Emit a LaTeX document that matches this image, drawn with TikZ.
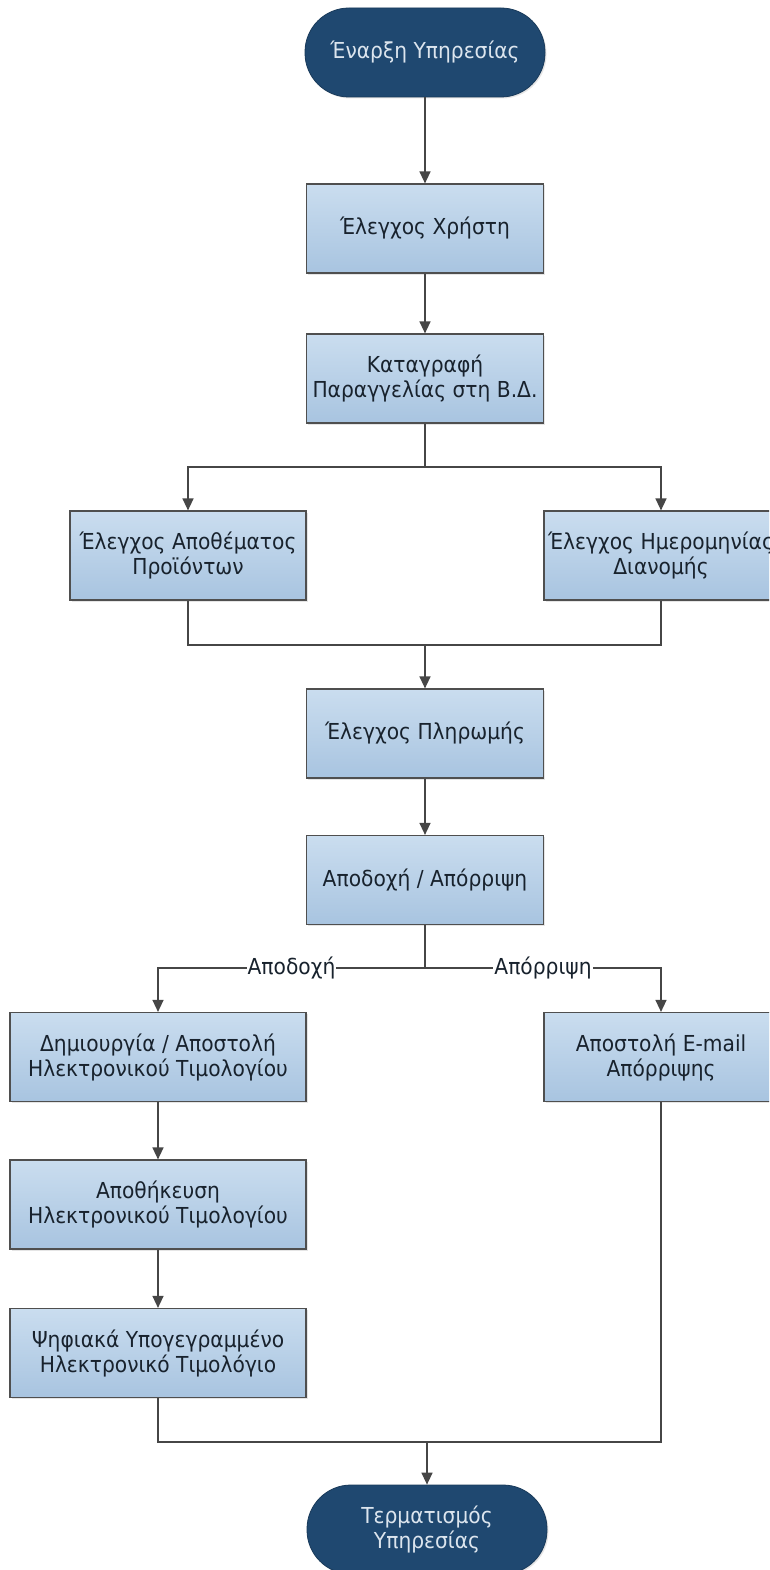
\documentclass[tikz,border=0pt]{standalone}
\usepackage{fontspec}
\setmainfont{DejaVu Sans}[FakeStretch=0.92]
\usetikzlibrary{arrows.meta,shadows}

\definecolor{boxtop}{HTML}{CADDEF}
\definecolor{boxbot}{HTML}{A8C4E0}
\definecolor{boxline}{HTML}{4F4F4F}
\definecolor{termfill}{HTML}{1F4870}
\definecolor{termtext}{HTML}{DCE5EE}
\definecolor{wire}{HTML}{464646}
\definecolor{ink}{HTML}{18222D}

\tikzset{
  txt/.style={font=\fontsize{22}{25}\selectfont, align=center},
  procbox/.style={txt, draw=boxline, line width=1.2pt, text=ink,
    top color=boxtop, bottom color=boxbot, rectangle,
    minimum width=237pt, minimum height=89pt, inner sep=1pt,
    drop shadow={shadow xshift=1.5pt, shadow yshift=-1.5pt, opacity=0.2}},
  widebox/.style={procbox, minimum width=296pt},
  terminal/.style={txt, fill=termfill, text=termtext, draw=termfill!80!black,
    line width=0.8pt, rounded corners=44pt,
    minimum width=240pt, minimum height=89pt, inner sep=1pt,
    drop shadow={shadow xshift=1.5pt, shadow yshift=-1.5pt, opacity=0.2}},
  wireline/.style={draw=wire, line width=1.4pt},
  arr/.style={wireline, -{Triangle[length=12pt,width=11pt]}},
  lbl/.style={txt, fill=white, inner sep=1pt, text=ink},
}

\begin{document}
\begin{tikzpicture}[x=1pt, y=-1pt]
  \clip (0,0) rectangle (769,1570);
  \fill[white] (0,0) rectangle (769,1570);

  % nodes
  \node[terminal] (start) at (425,52.5) {Έναρξη Υπηρεσίας};
  \node[procbox] (user) at (425,228.5) {Έλεγχος Χρήστη};
  \node[procbox] (record) at (425,378.5) {Καταγραφή\\Παραγγελίας στη Β.Δ.};
  \node[procbox, minimum width=236pt] (stock) at (188,555.5) {Έλεγχος Αποθέματος\\Προϊόντων};
  \node[procbox, minimum width=234pt] (date) at (661,555.5) {Έλεγχος Ημερομηνίας\\Διανομής};
  \node[procbox] (pay) at (425,733.5) {Έλεγχος Πληρωμής};
  \node[procbox] (decide) at (425,880) {Αποδοχή / Απόρριψη};
  \node[widebox] (invoice) at (158,1057) {Δημιουργία / Αποστολή\\Ηλεκτρονικού Τιμολογίου};
  \node[procbox, minimum width=234pt] (email) at (661,1057) {Αποστολή E-mail\\Απόρριψης};
  \node[widebox] (store) at (158,1204.5) {Αποθήκευση\\Ηλεκτρονικού Τιμολογίου};
  \node[widebox] (signed) at (158,1353) {Ψηφιακά Υπογεγραμμένο\\Ηλεκτρονικό Τιμολόγιο};
  \node[terminal] (stop) at (427,1529.5) {Τερματισμός\\Υπηρεσίας};

  % junction points
  \coordinate (split1) at (425,467);
  \coordinate (merge1) at (425,645);
  \coordinate (split2) at (425,968);
  \coordinate (accL) at (158,968);
  \coordinate (rejR) at (661,968);
  \coordinate (merge2) at (427,1442);

  % connectors
  \draw[arr] (start) -- (user);
  \draw[arr] (user) -- (record);
  \draw[wireline] (record) -- (split1);
  \draw[arr] (split1) -| (stock);
  \draw[arr] (split1) -| (date);
  \draw[wireline] (stock) |- (merge1);
  \draw[wireline] (date) |- (merge1);
  \draw[arr] (merge1) -- (pay);
  \draw[arr] (pay) -- (decide);
  \draw[wireline] (decide) -- (split2);
  \draw[arr] (split2) -- node[lbl] {Αποδοχή} (accL) -- (invoice);
  \draw[arr] (split2) -- node[lbl] {Απόρριψη} (rejR) -- (email);
  \draw[arr] (invoice) -- (store);
  \draw[arr] (store) -- (signed);
  \draw[wireline] (signed) |- (merge2);
  \draw[wireline] (email) |- (merge2);
  \draw[arr] (merge2) -- (stop);
\end{tikzpicture}
\end{document}
